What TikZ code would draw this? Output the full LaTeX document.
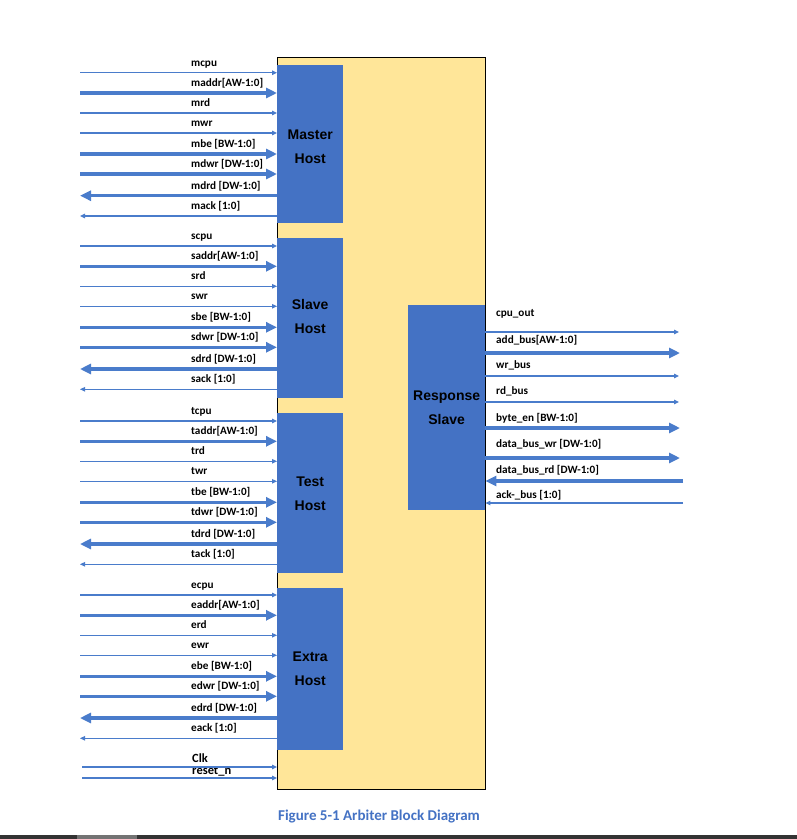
\documentclass[tikz,border=0pt]{standalone}
\usepackage{fontspec}
\setmainfont{Carlito}
\newfontfamily\hostfont{Liberation Sans}
\usetikzlibrary{arrows.meta}
\definecolor{boxblue}{HTML}{4472C4}
\definecolor{lineblue}{HTML}{4A7CCB}
\definecolor{panel}{HTML}{FFE699}
\definecolor{capblue}{HTML}{4472C4}
\begin{document}
\begin{tikzpicture}[x=1pt,y=-1pt,
  thinsig/.style={draw=lineblue, line width=1.1pt, -{Triangle[length=5pt,width=4.5pt]}},
  thicksig/.style={draw=lineblue, line width=3.2pt, -{Triangle[length=11pt,width=10pt]}},
  siglabel/.style={anchor=base west, inner sep=0pt, font=\fontsize{11.2}{13}\selectfont\bfseries},
  biglabel/.style={anchor=base west, inner sep=0pt, font=\fontsize{12.5}{14}\selectfont\bfseries},
  hostbox/.style={fill=boxblue, draw=none, minimum width=66pt, inner sep=0pt, anchor=north west},
  hosttext/.style={align=center, inner sep=0pt, font=\hostfont\fontsize{14}{24}\selectfont\bfseries},
]
\useasboundingbox (0,0) rectangle (797,839);
\fill[white] (0,0) rectangle (797,839);

% arbiter panel
\node[draw=black, fill=panel, line width=0.9pt, minimum width=208pt, minimum height=732pt,
  anchor=north west, inner sep=0pt] (arb) at (277,57) {};

% host boxes
\node[hostbox, minimum height=158pt] (mhost) at (277,65)  {};
\node[hostbox, minimum height=160pt] (shost) at (277,238) {};
\node[hostbox, minimum height=160pt] (thost) at (277,413) {};
\node[hostbox, minimum height=162pt] (ehost) at (277,588) {};
\node[hosttext] (mtext) at ([yshift=-2.5pt]mhost.center) {Master\\Host};
\node[hosttext] (stext) at ([yshift=2pt]shost.center) {Slave\\Host};
\node[hosttext] (ttext) at ([yshift=-0.5pt]thost.center) {Test\\Host};
\node[hosttext] (etext) at ([yshift=0.5pt]ehost.center) {Extra\\Host};

% host signals (dir: 1 = into host, 0 = out of host)
\foreach \g/\p/\h in {72.7/m/mhost, 246/s/shost, 421/t/thost, 595/e/ehost}{
  \foreach \i/\o/\s/\kind/\dir in {1/0/cpu/thin/1, 2/20.3/addr[AW-1:0]/thick/1, 3/40.3/rd/thin/1,
      4/60.3/wr/thin/1, 5/81.3/be [BW-1:0]/thick/1, 6/101.3/dwr [DW-1:0]/thick/1,
      7/123/drd [DW-1:0]/thick/0, 8/143.3/ack [1:0]/thin/0}{
    \coordinate (\p-c\i) at (80,\g+\o);
    \node[siglabel] (\p-l\i) at (191,\g+\o-6.5) {\p\s};
    \ifnum\dir=1
      \draw[\kind sig] (\p-c\i) -- (\p-c\i -| \h.west);
    \else
      \draw[\kind sig] (\p-c\i -| \h.west) -- (\p-c\i);
    \fi
  }
}

% clock and reset
\coordinate (clkc) at (82,767);
\coordinate (rstc) at (82,778);
\node[biglabel] (clkl) at (192,762.5) {Clk};
\node[biglabel] (rstl) at (192,774.5) {reset\_n};
\draw[thinsig] (clkc) -- (clkc -| arb.west);
\draw[thinsig] (rstc) -- (rstc -| arb.west);

% response slave
\node[hostbox, minimum width=77pt, minimum height=205pt] (resp) at (408,305) {};
\node[hosttext] (rtext) at (resp.center) {Response\\Slave};

\coordinate (r1) at (679,332);
\coordinate (r2) at (680,353);
\coordinate (r3) at (679,376);
\coordinate (r4) at (679,402);
\coordinate (r5) at (680,428);
\coordinate (r6) at (680,458);
\coordinate (r7) at (683,481);
\coordinate (r8) at (683,503);
\draw[thinsig]  (r1 -| resp.east) -- (r1);
\draw[thicksig] (r2 -| resp.east) -- (r2);
\draw[thinsig]  (r3 -| resp.east) -- (r3);
\draw[thinsig]  (r4 -| resp.east) -- (r4);
\draw[thicksig] (r5 -| resp.east) -- (r5);
\draw[thicksig] (r6 -| resp.east) -- (r6);
\draw[thicksig] (r7) -- (r7 -| resp.east);
\draw[thinsig]  (r8) -- (r8 -| resp.east);
\node[siglabel] (rl1) at (496,316.5) {cpu\_out};
\node[siglabel] (rl2) at (496,343) {add\_bus[AW-1:0]};
\node[siglabel] (rl3) at (496,368.5) {wr\_bus};
\node[siglabel] (rl4) at (496,394.5) {rd\_bus};
\node[siglabel] (rl5) at (496,421.5) {byte\_en [BW-1:0]};
\node[siglabel] (rl6) at (496,447.5) {data\_bus\_wr [DW-1:0]};
\node[siglabel] (rl7) at (496,473.5) {data\_bus\_rd [DW-1:0]};
\node[siglabel] (rl8) at (496,498.5) {ack-\_bus [1:0]};

% caption
\node[font=\bfseries\fontsize{15}{17}\selectfont, text=capblue] (cap) at (379,816)
  {Figure 5-1 Arbiter Block Diagram};

% bottom bar
\fill[black!80] (0,835) rectangle (797,839);
\fill[black!55] (77,835) rectangle (137,839);
\end{tikzpicture}
\end{document}
